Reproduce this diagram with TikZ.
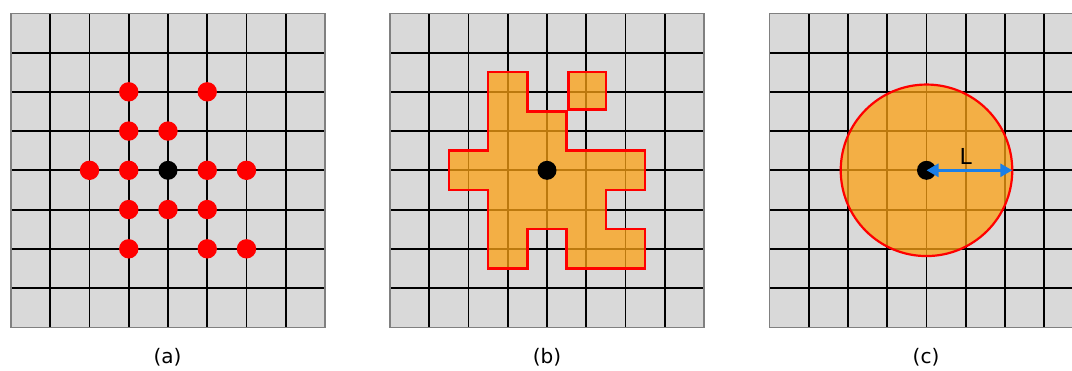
\documentclass[tikz,border=0pt]{standalone}
\usepackage{fontspec}
\setmainfont{DejaVu Sans}
\usetikzlibrary{arrows.meta}
\definecolor{gridgrey}{RGB}{217,217,217}
\definecolor{bordergrey}{RGB}{128,128,128}
\definecolor{shapeorange}{RGB}{252,162,20}
\definecolor{arrowblue}{RGB}{26,127,232}
\tikzset{
  gridfill/.style={fill=gridgrey},
  gridline/.style={draw=black,line width=1.9pt},
  gridborder/.style={draw=bordergrey,line width=1.4pt},
  nbdot/.style={circle,fill=red,minimum size=19.4pt,inner sep=0pt},
  ctrdot/.style={circle,fill=black,minimum size=19pt,inner sep=0pt},
  region/.style={fill=shapeorange,fill opacity=0.75,draw=red,line width=2.6pt,line join=miter},
  circregion/.style={region,line width=2.2pt},
  caption/.style={font=\fontsize{20}{24}\selectfont,text=black},
  lcaption/.style={font=\fontsize{22}{26}\selectfont,text=black},
  radarrow/.style={draw=arrowblue,line width=2.8pt,{Triangle[length=12pt,width=13pt]}-{Triangle[length=12pt,width=13pt]}}
}
\newcommand{\drawgridcells}{%
  \fill[gridfill] (0,0) rectangle (8,8);
  \foreach \i in {1,...,7} {
    \draw[gridline] (\i,0) -- (\i,8);
    \draw[gridline] (0,\i) -- (8,\i);
  }
  \draw[gridborder] (0,0) rectangle (8,8);
}
\begin{document}
\begin{tikzpicture}[x=1pt,y=-1pt]
\useasboundingbox (0,0) rectangle (1072,370);
\clip (0,0) rectangle (1072,370);
\fill[white] (0,0) rectangle (1072,370);
% (a)
\begin{scope}[shift={(11,13.3)},x=39.25pt,y=-39.25pt]
  \drawgridcells
  \foreach \p/\n in {{(3,2)}/a1,{(5,2)}/a2,{(3,3)}/a3,{(4,3)}/a4,{(2,4)}/a5,{(3,4)}/a6,{(5,4)}/a7,{(6,4)}/a8,{(3,5)}/a9,{(4,5)}/a10,{(5,5)}/a11,{(3,6)}/a12,{(5,6)}/a13,{(6,6)}/a14}
    \node[nbdot] (\n) at \p {};
  \node[ctrdot] (actr) at (4,4) {};
\end{scope}
% (b)
\begin{scope}[shift={(390,13.3)},x=39.25pt,y=-39.25pt]
  \drawgridcells
  \draw[region] (2.5,1.5) -- (3.5,1.5) -- (3.5,2.5) -- (4.5,2.5) -- (4.5,3.5) -- (6.5,3.5) -- (6.5,4.5) -- (5.5,4.5) -- (5.5,5.5) -- (6.5,5.5) -- (6.5,6.5) -- (4.5,6.5) -- (4.5,5.5) -- (3.5,5.5) -- (3.5,6.5) -- (2.5,6.5) -- (2.5,4.5) -- (1.5,4.5) -- (1.5,3.5) -- (2.5,3.5) -- cycle;
  \draw[region] (4.55,1.5) rectangle (5.5,2.45);
  \node[ctrdot] (bctr) at (4,4) {};
\end{scope}
% (c)
\begin{scope}[shift={(769.5,13.3)},x=39.25pt,y=-39.25pt]
  \drawgridcells
  \draw[circregion] (4,4) circle[radius=2.185];
  \node[ctrdot] (cctr) at (4,4) {};
  \coordinate (cedge) at (6.185,4);
  \draw[radarrow] (cctr.center) -- (cedge);
  \node[lcaption] (lbl) at (5.0,3.66) {L};
\end{scope}
% captions
\node[caption] (capa) at (167.5,357) {(a)};
\node[caption] (capb) at (547,357) {(b)};
\node[caption] (capc) at (926,357) {(c)};
\end{tikzpicture}
\end{document}
